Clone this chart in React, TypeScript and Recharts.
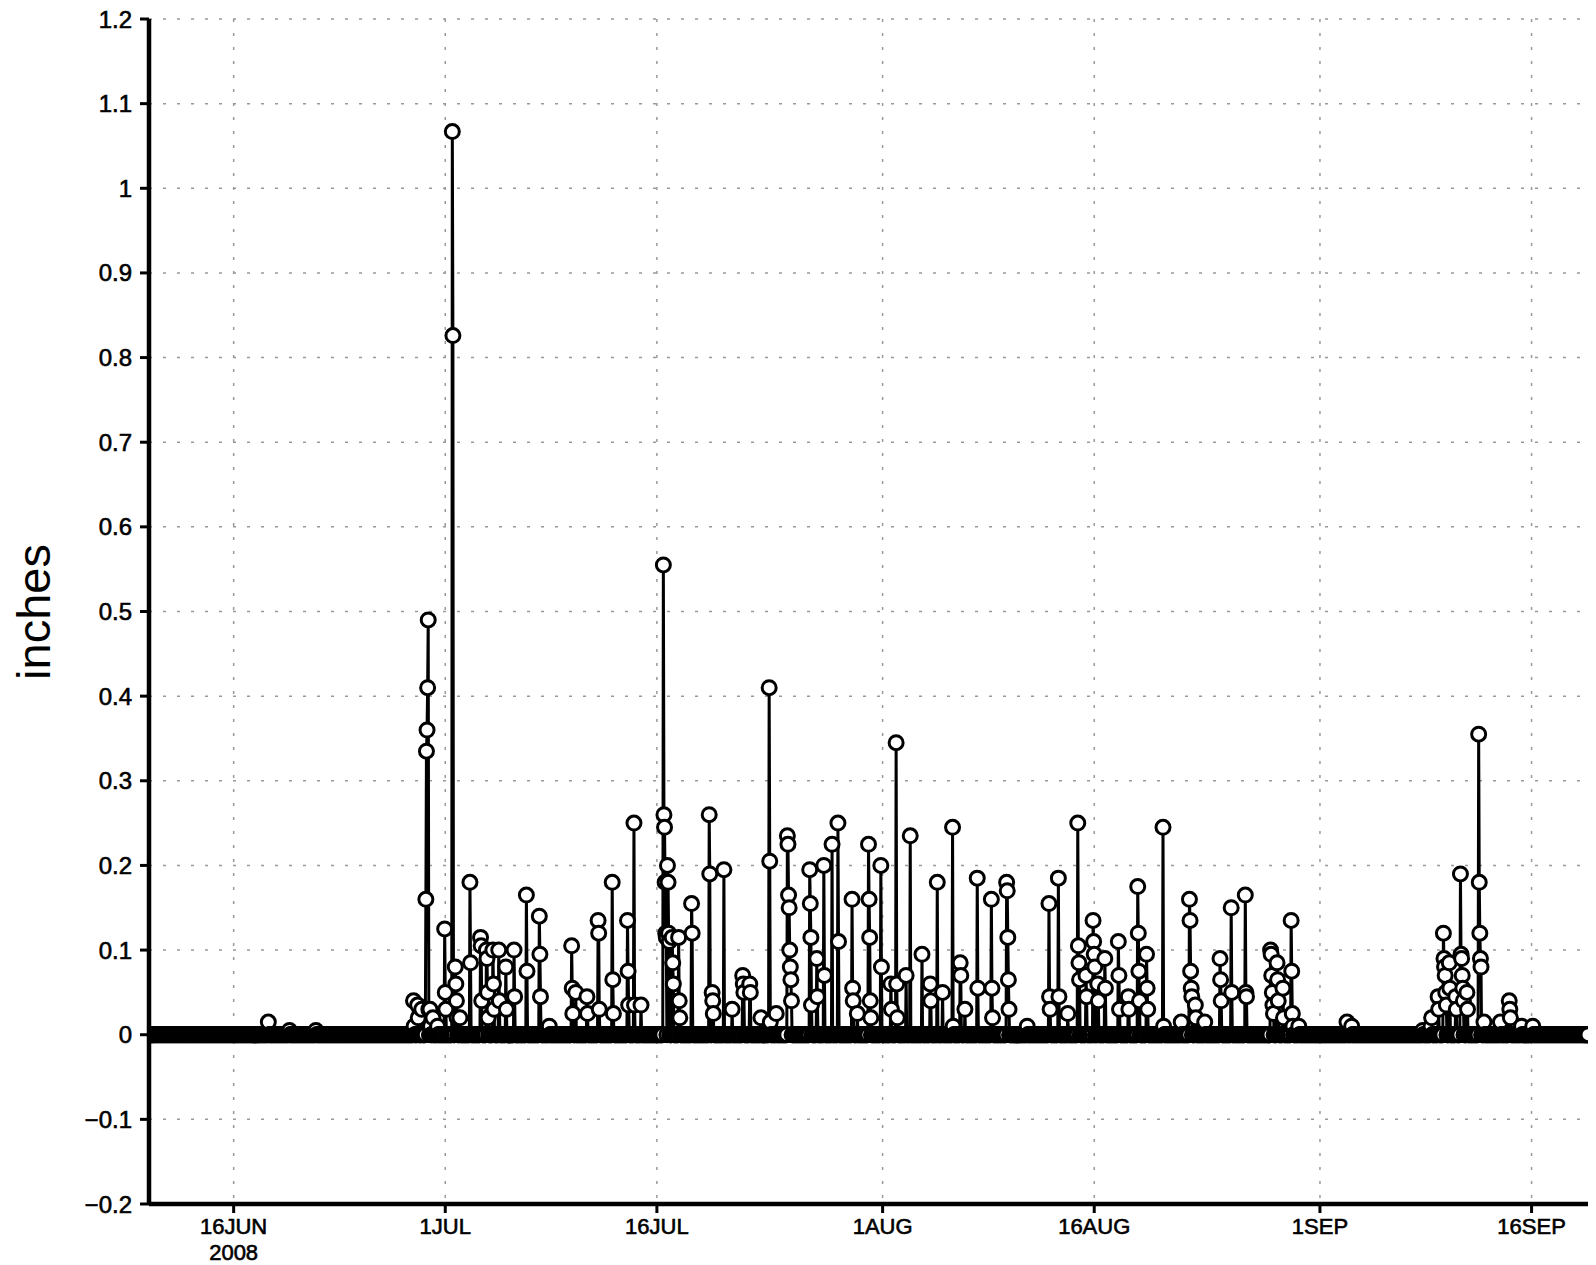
import React from "react";
import {
  LineChart,
  Line,
  XAxis,
  YAxis,
  CartesianGrid,
  Customized,
} from "recharts";

// time axis: days since 10JUN2008 00Z, hourly samples out to 20SEP
const TOTAL_DAYS = 102;

const xTickDays = [6, 21, 36, 52, 67, 83, 98];
const xTickLabels = ["16JUN", "1JUL", "16JUL", "1AUG", "16AUG", "1SEP", "16SEP"];

const yTicks = [-0.2, -0.1, 0, 0.1, 0.2, 0.3, 0.4, 0.5, 0.6, 0.7, 0.8, 0.9, 1, 1.1, 1.2];
const yTickLabels = ["−0.2", "−0.1", "0", "0.1", "0.2", "0.3", "0.4", "0.5", "0.6", "0.7", "0.8", "0.9", "1", "1.1", "1.2"];

// start of each rain event (days) and its consecutive hourly amounts (inches)
const spikeDays = [
  8.45, 9.96, 11.83,
  18.74, 19.03, 19.32, 19.61, 19.9, 20.11, 20.47, 20.97, 21.48, 21.69, 22.05,
  22.77, 23.49, 23.93, 24.36, 24.79, 25.29, 25.87, 26.73, 27.67, 28.39,
  29.97, 30.26, 31.05, 31.85, 32.85, 33.93, 34.37, 34.87,
  36.45, 36.74, 37.1, 37.53, 38.47, 39.69, 39.91, 40.77, 41.35, 42.07, 42.57,
  43.37, 43.94, 44.44, 45.24, 45.52, 46.82, 47.32, 47.83, 48.4, 48.84,
  49.84, 50.2, 51.0, 51.86, 52.58, 52.94, 53.66, 53.95, 54.81, 55.39, 55.89,
  56.25, 56.97, 57.48, 57.84, 58.7, 59.71, 60.79, 62.23,
  63.81, 64.46, 65.11, 65.83, 66.4, 66.91, 67.27, 67.77, 68.71, 69.43,
  70.07, 70.72, 71.87, 73.17, 73.75, 74.18, 74.83, 75.91, 76.7, 77.71,
  79.51, 79.94, 80.37, 80.95, 81.52, 84.9, 85.27,
  90.3, 90.88, 91.39, 91.75, 92.18, 92.61, 92.97, 93.4, 94.27, 94.62,
  95.78, 96.42, 97.29, 98.08,
];

const spikeValues = [
  [0.015], [0.005], [0.005],
  [0.04, 0.01], [0.035, 0.02], [0.03], [0.16, 0.335, 0.36, 0.41, 0.49, 0.03], [0.03, 0.01], [0.02], [0.01],
  [0.125, 0.05, 0.03], [1.067, 0.826], [0.08, 0.06, 0.04, 0.02], [0.02],
  [0.18, 0.085], [0.115, 0.105, 0.04], [0.1, 0.09, 0.05, 0.02], [0.1, 0.06, 0.03], [0.1, 0.04],
  [0.08, 0.03], [0.1, 0.045], [0.165, 0.075], [0.14, 0.095, 0.045], [0.01],
  [0.105, 0.055, 0.025], [0.05], [0.045, 0.025], [0.135, 0.12, 0.03], [0.18, 0.065, 0.025],
  [0.135, 0.075, 0.035], [0.25, 0.035], [0.035],
  [0.555, 0.26, 0.245, 0.18, 0.12, 0.115], [0.2, 0.18, 0.12, 0.11], [0.115, 0.085, 0.06],
  [0.115, 0.04, 0.02], [0.155, 0.12], [0.26, 0.19], [0.05, 0.04, 0.025], [0.195], [0.03],
  [0.07, 0.06, 0.05], [0.06, 0.05],
  [0.02], [0.41, 0.205, 0.015], [0.025], [0.235, 0.225, 0.165, 0.15, 0.1, 0.08, 0.05, 0.04],
  [0.065], [0.195, 0.155, 0.115, 0.035], [0.09, 0.045], [0.2, 0.07], [0.225], [0.25, 0.11],
  [0.16, 0.055, 0.04], [0.025], [0.225, 0.16, 0.115, 0.04, 0.02], [0.2, 0.08], [0.06, 0.03],
  [0.345, 0.06, 0.02], [0.07], [0.235], [0.095], [0.06, 0.04], [0.18],
  [0.05], [0.245, 0.01], [0.085, 0.07], [0.03], [0.185, 0.055], [0.16, 0.055, 0.02],
  [0.18, 0.17, 0.115, 0.065, 0.03], [0.01],
  [0.155, 0.045, 0.03], [0.185, 0.045], [0.025], [0.25, 0.105, 0.085, 0.065], [0.07, 0.045],
  [0.135, 0.11, 0.095, 0.08], [0.06, 0.04], [0.09, 0.055], [0.11, 0.07, 0.03], [0.045, 0.03],
  [0.175, 0.12, 0.075, 0.04], [0.095, 0.055, 0.03], [0.245, 0.01], [0.015],
  [0.16, 0.135, 0.075, 0.055, 0.045], [0.035, 0.02], [0.015], [0.09, 0.065, 0.04], [0.15, 0.05],
  [0.165, 0.05, 0.045],
  [0.1, 0.095, 0.07, 0.05, 0.035, 0.025], [0.085, 0.065, 0.04], [0.055, 0.02],
  [0.135, 0.075, 0.025, 0.01], [0.01], [0.015], [0.01],
  [0.005], [0.01, 0.02], [0.045, 0.03], [0.12, 0.09, 0.08, 0.07, 0.05, 0.035], [0.085, 0.055],
  [0.045, 0.03], [0.19, 0.095, 0.09, 0.07, 0.055, 0.04], [0.05, 0.03], [0.355, 0.18, 0.12, 0.09, 0.08],
  [0.015],
  [0.015], [0.04, 0.03, 0.02], [0.01], [0.01],
];

const hourly: number[] = new Array(TOTAL_DAYS * 24 + 1).fill(0);
spikeDays.forEach((d, i) => {
  const h0 = Math.round(d * 24);
  spikeValues[i].forEach((v, k) => {
    hourly[h0 + k] = v;
  });
});
const data = hourly.map((v, h) => ({ t: h / 24, rain: v }));

const FONT = "'Liberation Sans', Arial, sans-serif";
const textInk = { fill: "#000", stroke: "#000", strokeWidth: 0.6 };

const XTick = (props: any) => {
  const { x, y, payload } = props;
  const i = xTickDays.indexOf(payload.value);
  return (
    <g>
      <text x={x} y={y + 21} textAnchor="middle" fontSize={22} fontFamily={FONT} {...textInk}>
        {xTickLabels[i]}
      </text>
      {i === 0 && (
        <text x={x} y={y + 47} textAnchor="middle" fontSize={22} fontFamily={FONT} {...textInk}>
          2008
        </text>
      )}
    </g>
  );
};

const fmtY = (v: number) => {
  const i = yTicks.findIndex((t) => Math.abs(t - v) < 1e-6);
  return i >= 0 ? yTickLabels[i] : String(v);
};

const frame = { stroke: "#000", strokeWidth: 4.5 };

export default function App() {
  return (
    <div style={{ position: "absolute", left: 0, top: 0, width: 1596, height: 1265, background: "#fff" }}>
      <LineChart
        width={1596}
        height={1265}
        data={data}
        margin={{ top: 19, right: 8, bottom: 0, left: 0 }}
      >
        <CartesianGrid
          stroke="#999"
          strokeWidth={1.5}
          strokeDasharray="3 11"
          verticalValues={xTickDays}
          horizontalValues={yTicks}
        />
        <XAxis
          dataKey="t"
          type="number"
          domain={[0, TOTAL_DAYS]}
          ticks={xTickDays}
          allowDataOverflow
          height={61}
          axisLine={frame}
          tickLine={{ stroke: "#000", strokeWidth: 3 }}
          tickSize={9}
          tickMargin={0}
          tick={<XTick />}
          interval={0}
        />
        <XAxis
          xAxisId="top"
          orientation="top"
          type="number"
          domain={[0, TOTAL_DAYS]}
          height={0}
          axisLine={frame}
          tick={false}
          tickLine={false}
        />
        <YAxis
          type="number"
          domain={[-0.2, 1.2]}
          ticks={yTicks}
          allowDataOverflow
          width={149}
          axisLine={frame}
          tickLine={{ stroke: "#000", strokeWidth: 3 }}
          tickSize={9}
          tickMargin={8}
          tickFormatter={fmtY}
          tick={{ ...textInk, fontSize: 24, fontFamily: FONT }}
          interval={0}
        />
        <YAxis
          yAxisId="right"
          orientation="right"
          type="number"
          domain={[-0.2, 1.2]}
          width={0}
          axisLine={frame}
          tick={false}
          tickLine={false}
        />
        <Line
          dataKey="rain"
          type="linear"
          stroke="#000"
          strokeWidth={3}
          dot={{ r: 7, fill: "#fff", stroke: "#000", strokeWidth: 3 }}
          activeDot={false}
          isAnimationActive={false}
        />
        <Customized
          component={() => (
            <text
              x={0}
              y={0}
              transform="translate(50 612) rotate(-90)"
              textAnchor="middle"
              fontSize={47}
              fontFamily={FONT}
              fill="#000"
            >
              inches
            </text>
          )}
        />
      </LineChart>
    </div>
  );
}
